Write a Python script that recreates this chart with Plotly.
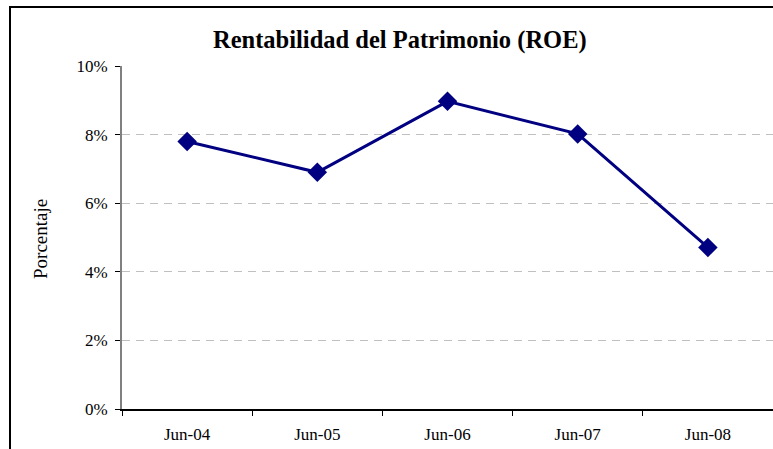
import plotly.graph_objects as go

categories = ["Jun-04", "Jun-05", "Jun-06", "Jun-07", "Jun-08"]
roe_values = [0.078, 0.069, 0.0897, 0.0802, 0.0471]
title_text = "Rentabilidad del Patrimonio (ROE)"
y_label = "Porcentaje"

W, H = 773, 449
L, R, T, B = 122, 0, 66, 40
pw = W - L - R
ph = H - T - B

def px_to_paper_x(px):
    return (px - L) / pw

def px_to_paper_y(py):
    return (H - B - py) / ph

font_family = "Liberation Serif"

fig = go.Figure()
fig.add_trace(go.Scatter(
    x=categories, y=roe_values, mode="lines+markers",
    line=dict(color="#000080", width=3),
    marker=dict(symbol="diamond", size=15, color="#000080"),
    showlegend=False, cliponaxis=False,
))

fig.update_layout(
    width=W, height=H,
    margin=dict(l=L, r=R, t=T, b=B, pad=0),
    paper_bgcolor="white", plot_bgcolor="white",
    font=dict(family=font_family, size=17, color="black"),
    annotations=[
        dict(text=title_text, xref="paper", yref="paper",
             x=px_to_paper_x(400), y=px_to_paper_y(40), showarrow=False,
             xanchor="center", yanchor="middle",
             font=dict(size=24.5, family=font_family, color="black", weight="bold")),
        dict(text=y_label, textangle=-90, xref="paper", yref="paper",
             x=px_to_paper_x(41), y=px_to_paper_y(239), showarrow=False,
             xanchor="center", yanchor="middle",
             font=dict(size=19, family=font_family, color="black")),
    ],
    xaxis=dict(type="category", tickson="boundaries", ticks="outside", ticklen=5,
               tickcolor="black", tickwidth=1, showline=True, linecolor="black", linewidth=1.5,
               showgrid=False, zeroline=False, range=[-0.5, 4.5], ticklabelstandoff=9,
               tickfont=dict(size=17, family=font_family, color="black")),
    yaxis=dict(range=[0, 0.1], dtick=0.02, tickformat=".0%", ticks="outside", ticklen=5,
               tickcolor="black", tickwidth=1, showline=True, linecolor="#808080", linewidth=2,
               showgrid=True, gridcolor="#c0c0c0", gridwidth=1, griddash="8px,6px",
               zeroline=False, ticklabelstandoff=4,
               tickfont=dict(size=17, family=font_family, color="black")),
    shapes=[dict(type="rect", xref="paper", yref="paper",
                 x0=px_to_paper_x(10), x1=px_to_paper_x(800),
                 y0=px_to_paper_y(470), y1=px_to_paper_y(7),
                 line=dict(color="black", width=2), fillcolor="rgba(0,0,0,0)", layer="above")],
)

fig.write_html("out.html", config={"displayModeBar": False},
               post_script="document.body.style.margin='0';")
